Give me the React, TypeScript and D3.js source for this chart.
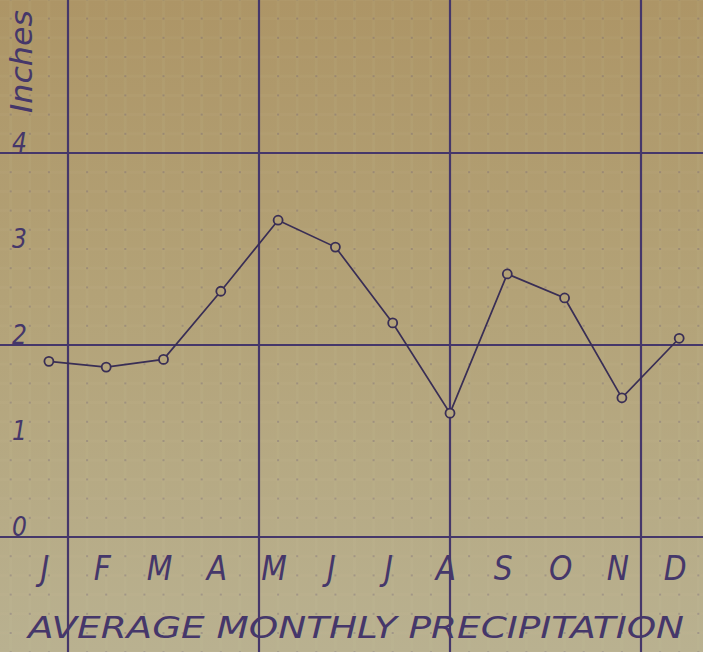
import React, { useRef, useEffect } from "react"
import * as d3 from "d3"

const months = ["J", "F", "M", "A", "M", "J", "J", "A", "S", "O", "N", "D"]
const precipitation = [1.83, 1.77, 1.85, 2.56, 3.3, 3.02, 2.23, 1.29, 2.74, 2.49, 1.45, 2.07]
const yTicks = [0, 1, 2, 3, 4]
const majorRows = [0, 2, 4]
const majorCols = [0, 10, 20, 30]
const title = "AVERAGE MONTHLY PRECIPITATION"

const width = 703
const height = 652
const ink = "#45376a"
const pencil = "#392e55"
const lettering = "'Liberation Sans Narrow', 'DejaVu Sans Condensed', sans-serif"

export default function App() {
  const svgRef: React.RefObject<SVGSVGElement> = useRef(null)

  useEffect(() => {
    if (svgRef.current != null) {
      const svg = d3.select(svgRef.current)
      svg.selectAll("*").remove()
      drawChart(svg)
    }
  }, [])

  return (
    <svg
      ref={svgRef}
      width={width}
      height={height}
      style={{ position: "absolute", left: 0, top: 0, display: "block" }}
    />
  )
}

function drawChart(svg) {
  // grid units: one small square = 0.2 inch vertically, one column horizontally
  const y = d3.scaleLinear().domain([0, 4]).range([537, 153])
  const gx = d3.scaleLinear().domain([0, 30]).range([68, 641])
  const monthX = (i: number) => gx(3 * i - 1)

  const defs = svg.append("defs")
  const grad = defs
    .append("linearGradient")
    .attr("id", "paper")
    .attr("gradientUnits", "userSpaceOnUse")
    .attr("x1", 0)
    .attr("y1", 0)
    .attr("x2", 0)
    .attr("y2", height)
  grad.append("stop").attr("offset", "0%").attr("stop-color", "#ad9566")
  grad.append("stop").attr("offset", "45%").attr("stop-color", "#b3a277")
  grad.append("stop").attr("offset", "100%").attr("stop-color", "#b9b190")

  svg
    .append("rect")
    .attr("width", width)
    .attr("height", height)
    .attr("fill", "url(#paper)")

  // minor grid (faint paper ruling)
  const minorCols = d3.range(-4, 34)
  const minorRows = d3.range(-6, 29).map(k => k * 0.2)
  const minor = svg.append("g")
  minor
    .selectAll("line.mc")
    .data(minorCols)
    .enter()
    .append("line")
    .attr("x1", d => gx(d))
    .attr("x2", d => gx(d))
    .attr("y1", 0)
    .attr("y2", height)
    .attr("stroke", "#d8cfae")
    .attr("stroke-opacity", 0.07)
    .attr("stroke-width", 3)
  minor
    .selectAll("line.mr")
    .data(minorRows)
    .enter()
    .append("line")
    .attr("x1", 0)
    .attr("x2", width)
    .attr("y1", d => y(d))
    .attr("y2", d => y(d))
    .attr("stroke", "#d8cfae")
    .attr("stroke-opacity", 0.06)
    .attr("stroke-width", 3)

  const dots = []
  minorCols.forEach(c => minorRows.forEach(r => dots.push([c, r])))
  minor
    .selectAll("rect.dot")
    .data(dots)
    .enter()
    .append("rect")
    .attr("x", d => gx(d[0]) - 1)
    .attr("y", d => y(d[1]) - 1)
    .attr("width", 2)
    .attr("height", 2)
    .attr("fill", ink)
    .attr("opacity", 0.22)

  // major ruling
  svg
    .selectAll("line.row")
    .data(majorRows)
    .enter()
    .append("line")
    .attr("x1", 0)
    .attr("x2", width)
    .attr("y1", d => y(d))
    .attr("y2", d => y(d))
    .attr("stroke", ink)
    .attr("stroke-width", 2.2)
  svg
    .selectAll("line.col")
    .data(majorCols)
    .enter()
    .append("line")
    .attr("x1", d => gx(d))
    .attr("x2", d => gx(d))
    .attr("y1", 0)
    .attr("y2", height)
    .attr("stroke", ink)
    .attr("stroke-width", 2.2)

  // y labels
  svg
    .selectAll("text.ytick")
    .data(yTicks)
    .enter()
    .append("text")
    .attr("x", 12)
    .attr("y", d => y(d) - 1)
    .attr("font-family", lettering)
    .attr("font-style", "italic")
    .attr("font-size", 26)
    .attr("fill", ink)
    .text(d => d)

  svg
    .append("text")
    .attr("transform", "translate(32, 113) rotate(-90)")
    .attr("font-family", lettering)
    .attr("font-style", "italic")
    .attr("font-size", 30)
    .attr("textLength", 103)
    .attr("lengthAdjust", "spacingAndGlyphs")
    .attr("fill", ink)
    .text("Inches")

  // data line
  const line = d3
    .line<number>()
    .x((d, i) => monthX(i))
    .y(d => y(d))
  svg
    .append("path")
    .datum(precipitation)
    .attr("d", line)
    .attr("fill", "none")
    .attr("stroke", pencil)
    .attr("stroke-width", 1.7)

  svg
    .selectAll("circle.pt")
    .data(precipitation)
    .enter()
    .append("circle")
    .attr("cx", (d, i) => monthX(i))
    .attr("cy", d => y(d))
    .attr("r", 4.5)
    .attr("fill", "url(#paper)")
    .attr("stroke", pencil)
    .attr("stroke-width", 1.8)

  // month labels
  svg
    .selectAll("text.month")
    .data(months)
    .enter()
    .append("text")
    .attr("x", (d, i) => monthX(i) - 4)
    .attr("y", 580)
    .attr("text-anchor", "middle")
    .attr("font-family", lettering)
    .attr("font-style", "italic")
    .attr("font-size", 33)
    .attr("fill", ink)
    .text(d => d)

  svg
    .append("text")
    .attr("x", 28)
    .attr("y", 638)
    .attr("textLength", 656)
    .attr("lengthAdjust", "spacingAndGlyphs")
    .attr("font-family", lettering)
    .attr("font-style", "italic")
    .attr("font-size", 31)
    .attr("fill", ink)
    .text(title)
}
